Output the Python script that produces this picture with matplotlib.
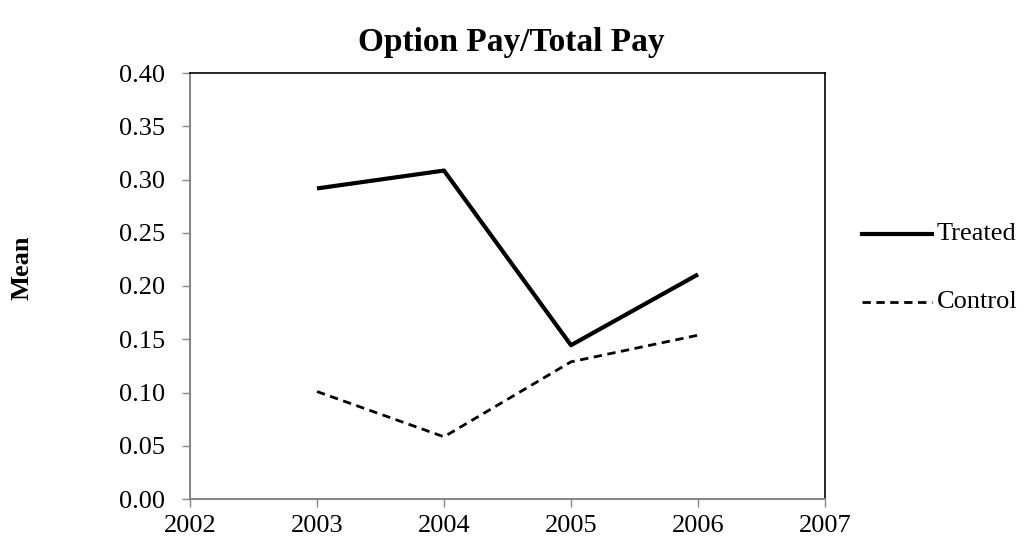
import matplotlib
matplotlib.use("Agg")
import matplotlib.pyplot as plt
from matplotlib.lines import Line2D

years = [2003, 2004, 2005, 2006]
treated = [0.2916, 0.3084, 0.1444, 0.2109]
control = [0.1009, 0.0584, 0.1288, 0.1538]
yticks = [0.0, 0.05, 0.10, 0.15, 0.20, 0.25, 0.30, 0.35, 0.40]
xticks = [2002, 2003, 2004, 2005, 2006, 2007]

plt.rcParams['font.family'] = ['Liberation Serif', 'DejaVu Serif']

fig = plt.figure(figsize=(10.24, 5.46), dpi=100)
ax = fig.add_axes([190/1024, 1-499/546, (825-190)/1024, (499-73)/546])

ax.plot(years, treated, color='black', lw=3, solid_capstyle='butt')
ax.plot(years, control, color='black', lw=2.0, ls=(0, (3, 2)))

ax.set_xlim(2002, 2007)
ax.set_ylim(0, 0.4)
ax.set_xticks(xticks)
ax.set_xticklabels([str(x) for x in xticks])
ax.set_yticks(yticks)
ax.set_yticklabels([f"{v:.2f}" for v in yticks])
ax.tick_params(axis='both', direction='out', length=5.5, width=1, color='#888888', labelsize=19)
ax.tick_params(axis='y', pad=12.5)
ax.tick_params(axis='x', pad=6)
for s in ['left', 'bottom']:
    ax.spines[s].set_color('#888888')
    ax.spines[s].set_linewidth(1.5)
for s in ['top', 'right']:
    ax.spines[s].set_color('black')
    ax.spines[s].set_linewidth(1.2)

fig.text(511/1024, 1-42/546, "Option Pay/Total Pay", ha='center', va='center', fontsize=24, fontweight='bold')
fig.text(22/1024, 1-268/546, "Mean", ha='center', va='center', rotation=90, fontsize=19, fontweight='bold')

# legend
fig.add_artist(Line2D([862/1024, 932/1024], [1-234/546, 1-234/546], color='black', lw=3))
fig.add_artist(Line2D([862/1024, 932/1024], [1-302/546, 1-302/546], color='black', lw=2.0, ls=(0, (3, 2))))
fig.text(937/1024, 1-234/546, "Treated", ha='left', va='center', fontsize=19)
fig.text(937/1024, 1-302/546, "Control", ha='left', va='center', fontsize=19)

fig.savefig("out.png", dpi=100)
